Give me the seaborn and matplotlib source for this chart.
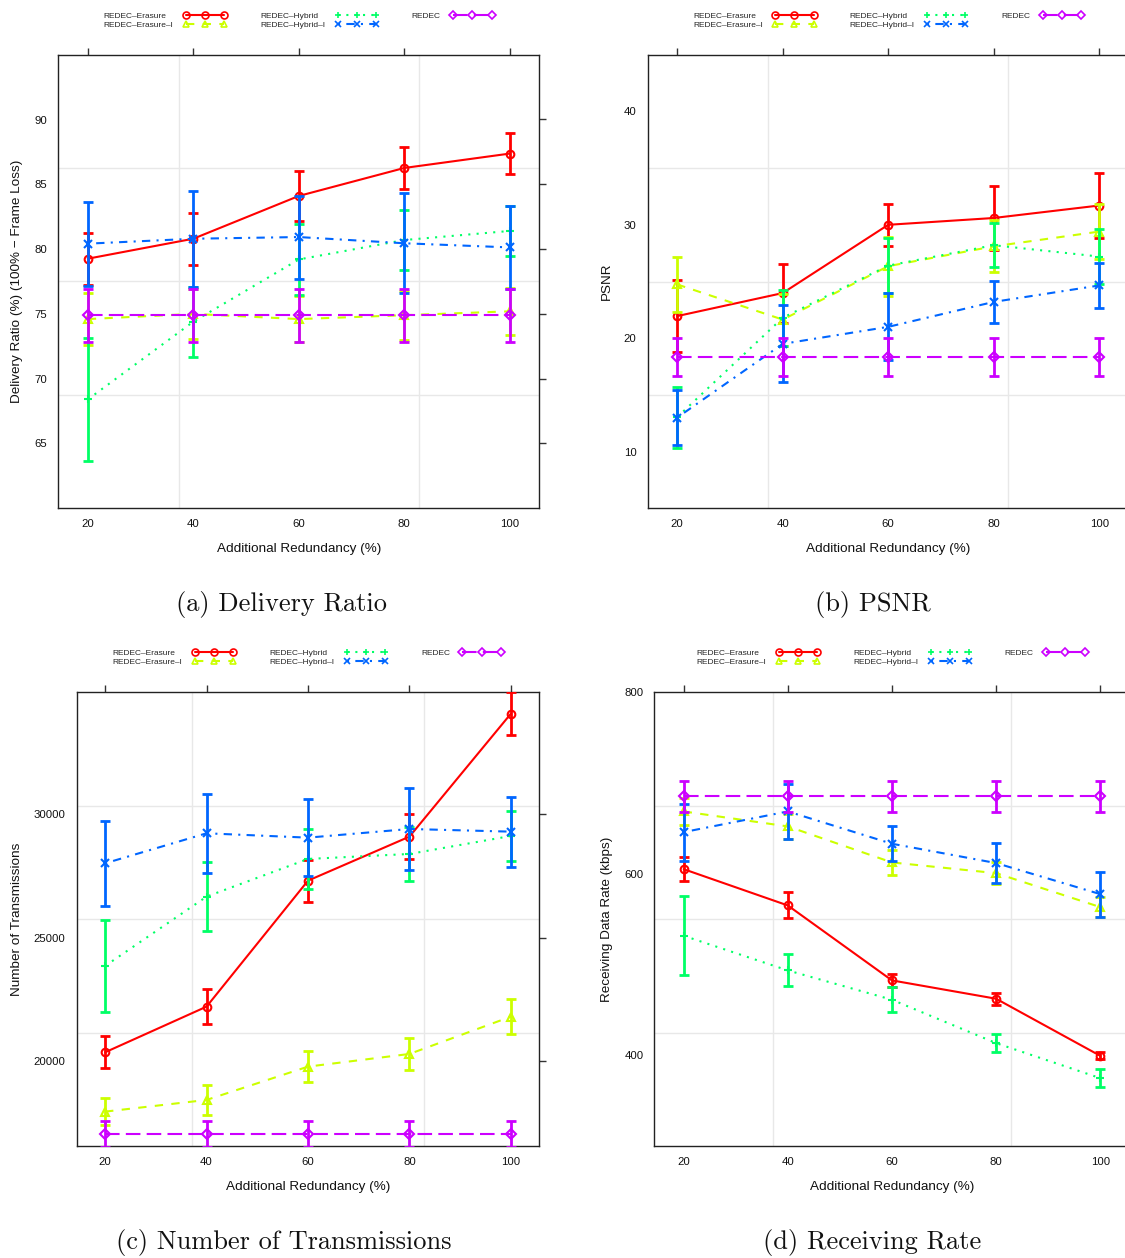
import numpy as np
import pandas as pd
import matplotlib
matplotlib.use("Agg")
import matplotlib.pyplot as plt
import seaborn as sns
from matplotlib.lines import Line2D

sns.set_theme(style="white")
plt.rcParams["font.family"] = ["Liberation Sans", "DejaVu Sans"]

# ---------------- data ----------------
redundancy = [20, 40, 60, 80, 100]
series = ["REDEC–Erasure", "REDEC–Erasure–I", "REDEC–Hybrid", "REDEC–Hybrid–I", "REDEC"]
colors = ["#FF0000", "#CCFF00", "#00FF66", "#0066FF", "#CC00FF"]
markers = ["o", "^", "+", "x", "D"]
linestyles = ["-", (0, (4, 4)), (0, (1, 3)), (0, (1, 3, 4, 3)), (0, (7, 3))]

# (a) Delivery ratio (%)
dr_erasure = [79.26, 80.8, 84.1, 86.26, 87.37]
dr_erasure_err = [2.0, 2.0, 1.95, 1.65, 1.6]
dr_erasure_i = [74.6, 75.0, 74.6, 74.9, 75.2]
dr_erasure_i_err = [2.0, 1.9, 1.8, 1.9, 1.8]
dr_hybrid = [68.4, 74.4, 79.2, 80.7, 81.4]
dr_hybrid_err = [4.75, 2.7, 2.75, 2.35, 1.95]
dr_hybrid_i = [80.42, 80.8, 80.93, 80.45, 80.13]
dr_hybrid_i_err = [3.25, 3.7, 3.2, 3.85, 3.2]
dr_redec = [74.9, 74.9, 74.9, 74.9, 74.9]
dr_redec_err = [2.05, 2.05, 2.05, 2.05, 2.05]

# (b) PSNR
ps_erasure = [21.95, 23.98, 30.0, 30.6, 31.7]
ps_erasure_err = [3.2, 2.6, 1.85, 2.8, 2.85]
ps_erasure_i = [24.74, 21.64, 26.35, 28.1, 29.4]
ps_erasure_i_err = [2.4, 2.3, 2.6, 2.3, 2.45]
ps_hybrid = [13.04, 21.8, 26.4, 28.2, 27.2]
ps_hybrid_err = [2.7, 2.45, 2.4, 1.95, 2.45]
ps_hybrid_i = [13.0, 19.5, 21.0, 23.2, 24.65]
ps_hybrid_i_err = [2.45, 3.4, 2.95, 1.85, 1.95]
ps_redec = [18.36, 18.36, 18.36, 18.36, 18.36]
ps_redec_err = [1.65, 1.65, 1.65, 1.65, 1.65]

# (c) Number of transmissions
nt_erasure = [20364, 22213, 27314, 29096, 34075]
nt_erasure_err = [650, 710, 850, 900, 880]
nt_erasure_i = [17962, 18435, 19784, 20297, 21808]
nt_erasure_i_err = [560, 590, 630, 640, 700]
nt_hybrid = [23860, 26667, 28192, 28394, 29123]
nt_hybrid_err = [1875, 1385, 1210, 1090, 1010]
nt_hybrid_i = [28016, 29231, 29055, 29406, 29298]
nt_hybrid_i_err = [1720, 1610, 1565, 1645, 1420]
nt_redec = [17058, 17058, 17058, 17058, 17058]
nt_redec_err = [530, 530, 530, 530, 530]

# (d) Receiving data rate (kbps)
rr_erasure = [605.1, 565.1, 482.5, 462.3, 399.4]
rr_erasure_err = [13.0, 14.3, 7.3, 6.5, 4.0]
rr_erasure_i = [668.7, 652.2, 612.5, 600.7, 563.3]
rr_erasure_i_err = [14.5, 14.0, 13.4, 12.5, 11.0]
rr_hybrid = [531.7, 493.5, 461.2, 413.4, 374.8]
rr_hybrid_err = [43.5, 17.6, 14.0, 10.3, 9.6]
rr_hybrid_i = [645.9, 668.7, 633.1, 611.8, 577.6]
rr_hybrid_i_err = [31.4, 30.0, 19.5, 22.0, 24.8]
rr_redec = [685.2, 685.2, 685.2, 685.2, 685.2]
rr_redec_err = [17.3, 17.3, 17.3, 17.3, 17.3]

panels = [
    dict(vals=[dr_erasure, dr_erasure_i, dr_hybrid, dr_hybrid_i, dr_redec],
         errs=[dr_erasure_err, dr_erasure_i_err, dr_hybrid_err, dr_hybrid_i_err, dr_redec_err],
         ylim=(60, 95), yticks=[65, 70, 75, 80, 85, 90],
         ylabel="Delivery Ratio (%) (100% − Frame Loss)", caption="(a) Delivery Ratio",
         rect=(58.3, 54.7, 539.3, 508.3), cap=(281.5, 605)),
    dict(vals=[ps_erasure, ps_erasure_i, ps_hybrid, ps_hybrid_i, ps_redec],
         errs=[ps_erasure_err, ps_erasure_i_err, ps_hybrid_err, ps_hybrid_i_err, ps_redec_err],
         ylim=(5, 45), yticks=[10, 20, 30, 40],
         ylabel="PSNR", caption="(b) PSNR",
         rect=(647.7, 54.7, 1128.7, 508.3), cap=(873, 605)),
    dict(vals=[nt_erasure, nt_erasure_i, nt_hybrid, nt_hybrid_i, nt_redec],
         errs=[nt_erasure_err, nt_erasure_i_err, nt_hybrid_err, nt_hybrid_i_err, nt_redec_err],
         ylim=(16570, 34940), yticks=[20000, 25000, 30000],
         ylabel="Number of Transmissions", caption="(c) Number of Transmissions",
         rect=(76.7, 692.3, 539.3, 1146.0), cap=(283.5, 1242)),
    dict(vals=[rr_erasure, rr_erasure_i, rr_hybrid, rr_hybrid_i, rr_redec],
         errs=[rr_erasure_err, rr_erasure_i_err, rr_hybrid_err, rr_hybrid_i_err, rr_redec_err],
         ylim=(300, 800), yticks=[400, 600, 800],
         ylabel="Receiving Data Rate (kbps)", caption="(d) Receiving Rate",
         rect=(654.5, 692.3, 1129.4, 1146.0), cap=(872.5, 1242)),
]

W, H = 1125, 1258
fig = plt.figure(figsize=(W / 100, H / 100), dpi=100)
fig.patch.set_facecolor("white")

xlim = (14.4, 105.6)
frame_col = "#222222"
legends = []

for p in panels:
    l, t, r, b = p["rect"]
    ax = fig.add_axes([l / W, 1 - b / H, (r - l) / W, (b - t) / H])
    ax.set_facecolor("white")
    ax.set_xlim(*xlim)
    ax.set_ylim(*p["ylim"])
    y0, y1 = p["ylim"]
    # light reference grid
    for f in (0.25, 0.5, 0.75):
        ax.axhline(y0 + f * (y1 - y0), color="#E8E8E8", lw=1.0, zorder=0)
    for f in (0.25, 0.75):
        ax.axvline(xlim[0] + f * (xlim[1] - xlim[0]), color="#E8E8E8", lw=1.0, zorder=0)

    for i, name in enumerate(series):
        df = pd.DataFrame({"x": redundancy, "y": p["vals"][i]})
        sns.lineplot(data=df, x="x", y="y", ax=ax, color=colors[i],
                     linestyle=linestyles[i], lw=1.5, marker=markers[i],
                     markersize=5.5 if markers[i] != "D" else 5,
                     mfc="none", mec=colors[i], mew=1.5, zorder=3 + i)
        ax.errorbar(redundancy, p["vals"][i], yerr=p["errs"][i], fmt="none",
                    ecolor=colors[i], elinewidth=2.0, capsize=3.8, capthick=2.0,
                    zorder=3 + i)

    ax.set_yticks(p["yticks"])
    ax.set_xticks(redundancy)
    ax.tick_params(axis="both", direction="out", length=5, width=1.0, color="#333333",
                   top=True, right=True, labeltop=False, labelright=False,
                   labelsize=8.2, pad=3, labelcolor="#111111")
    for s in ax.spines.values():
        s.set_visible(True)
        s.set_color(frame_col)
        s.set_linewidth(1.0)
    ax.set_xlabel("Additional Redundancy (%)", fontsize=9.7, labelpad=10, color="#111111")
    ax.set_ylabel(p["ylabel"], fontsize=9.7, labelpad=8, color="#111111")

    handles = [Line2D([], [], color=colors[i], linestyle=linestyles[i], lw=1.5,
                      marker=markers[i], markersize=5 if markers[i] != "D" else 4.5,
                      mfc="none", mec=colors[i], mew=1.2) for i in range(5)]
    leg = ax.legend(handles, series, ncol=3, loc="lower center", bbox_to_anchor=(0.5, 1.05),
                    frameon=False, fontsize=6, markerfirst=False, numpoints=3,
                    handlelength=5.2, handletextpad=1.2, columnspacing=4.0,
                    labelspacing=0.15, borderaxespad=0)
    legends.append(leg)

    cx, cy = p["cap"]
    fig.text(cx / W, 1 - cy / H, p["caption"], family="cmr10", fontsize=19,
             ha="center", va="center", color="#111111")

# left-align legend labels within each column (keeping the line samples aligned)
fig.canvas.draw()
rend = fig.canvas.get_renderer()
for leg in legends:
    for col in leg._legend_handle_box.get_children():
        rows = col.get_children()
        widths = [row.get_children()[0]._text.get_window_extent(rend).width for row in rows]
        mw = max(widths)
        for row, w in zip(rows, widths):
            row.sep += (mw - w) * 72.0 / fig.dpi

fig.savefig("out.png", dpi=100, facecolor="white")
